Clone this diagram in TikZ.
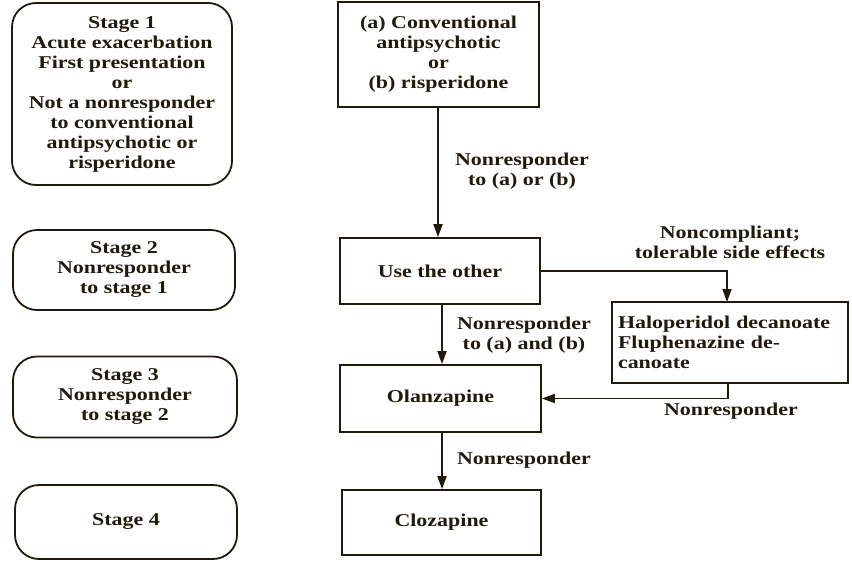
\documentclass[tikz,border=0pt]{standalone}
\usepackage{fontspec}
\setmainfont{Liberation Serif}[FakeStretch=1.22]
\usetikzlibrary{arrows.meta}
\definecolor{ink}{rgb}{0.13,0.10,0.04}
\begin{document}
\begin{tikzpicture}[x=1pt,y=-1pt,
  every node/.style={font=\fontsize{18}{20}\selectfont\bfseries, text=ink},
  stagebox/.style={draw=ink, line width=1.8pt, rounded corners=24pt, align=center, inner sep=0pt},
  drugbox/.style={draw=ink, line width=1.8pt, align=center, inner sep=0pt},
  conn/.style={draw=ink, line width=1.8pt, -{Triangle[length=13pt,width=9pt]}},
  lbl/.style={align=center, inner sep=0pt}]
\useasboundingbox (0,0) rectangle (852,565);
\fill[white] (0,0) rectangle (852,565);
% stage boxes
\node[stagebox, minimum width=220pt, minimum height=182pt] (s1) at (122,94)
  {Stage 1\\Acute exacerbation\\First presentation\\or\\Not a nonresponder\\to conventional\\antipsychotic or\\risperidone};
\node[stagebox, minimum width=222pt, minimum height=80pt] (s2) at (124,270)
  {Stage 2\\Nonresponder\\to stage 1};
\node[stagebox, minimum width=224pt, minimum height=81pt] (s3) at (125,397)
  {Stage 3\\Nonresponder\\to stage 2};
\node[stagebox, minimum width=222pt, minimum height=74pt] (s4) at (126,522)
  {Stage 4};
% drug boxes
\node[drugbox, minimum width=201pt, minimum height=105pt] (a) at (438.5,54.5)
  {(a) Conventional\\antipsychotic\\or\\(b) risperidone};
\node[drugbox, minimum width=200pt, minimum height=66pt] (other) at (440,271)
  {Use the other};
\node[drugbox, minimum width=201pt, minimum height=67pt] (olan) at (440.5,398.5)
  {Olanzapine};
\node[drugbox, minimum width=199pt, minimum height=65pt] (cloz) at (441.5,522.5)
  {Clozapine};
\node[drugbox, align=left, text width=224pt, minimum width=236pt, minimum height=81pt] (halo) at (730,342.5)
  {Haloperidol decanoate\\Fluphenazine de-\\canoate};
% connectors
\coordinate (aout) at (438,107);
\draw[conn] (aout) -- (aout |- other.north);
\coordinate (oout) at (442,304);
\draw[conn] (oout) -- (oout |- olan.north);
\coordinate (lout) at (442,432);
\draw[conn] (lout) -- (lout |- cloz.north);
\coordinate (hin) at (727,302);
\draw[conn] (other.east) -| (hin);
\coordinate (hout) at (728,383);
\draw[conn] (hout) |- (olan.east);
% labels
\node[lbl] (l1) at (522,171) {Nonresponder\\to (a) or (b)};
\node[lbl] (l2) at (524,335) {Nonresponder\\to (a) and (b)};
\node[lbl] (l3) at (524,460) {Nonresponder};
\node[lbl] (l4) at (730,242) {Noncompliant;\\tolerable side effects};
\node[lbl] (l5) at (731,411) {Nonresponder};
\end{tikzpicture}
\end{document}
